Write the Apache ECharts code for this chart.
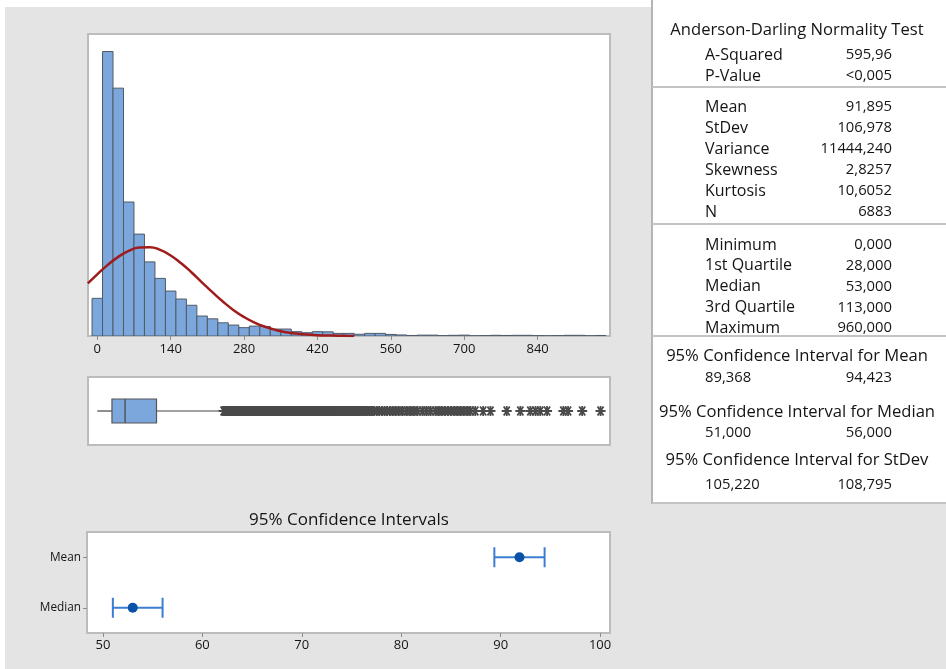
<!DOCTYPE html>
<html>
<head>
<meta charset="utf-8">
<script src="https://cdn.jsdelivr.net/npm/echarts@6/dist/echarts.min.js"></script>
<style>
  html, body { margin: 0; padding: 0; background: #e4e4e4; }
  #chart { width: 946px; height: 669px; }
</style>
</head>
<body>
<div id="chart"></div>
<script>
const FONT = '"Open Sans", "Noto Sans", sans-serif';

// ---- Histogram (bins of width 20, centred on multiples of 20) ----
const binWidth = 20;
const binCenters = [0, 20, 40, 60, 80, 100, 120, 140, 160, 180, 200, 220, 240, 260, 280, 300,
  320, 340, 360, 380, 400, 420, 440, 460, 480, 500, 520, 540, 560, 580, 600, 620, 640, 660,
  680, 700, 720, 740, 760, 780, 800, 820, 840, 860, 880, 900, 920, 940, 960];
const binCounts = [217, 1639, 1428, 772, 587, 427, 332, 259, 213, 177, 115, 99, 76, 63, 48, 57,
  55, 40, 40, 25, 19, 25, 24, 15, 15, 10, 15, 15, 9, 6, 3, 5, 5, 2, 4, 5, 1, 2, 4, 3,
  4, 4, 2, 1, 2, 4, 4, 1, 3];
const histTicks = [0, 140, 280, 420, 560, 700, 840];

// Fitted normal curve, in counts per bin
const curveX = [-18, 0, 20, 40, 60, 80, 100, 120, 140, 160, 180, 200, 220, 240, 260, 280, 300,
  320, 340, 360, 380, 400, 420, 440, 460, 480, 490];
const curveY = [303, 355, 410, 456, 491, 510, 512, 496, 464, 419, 366, 308, 251, 197, 149, 109, 77,
  53, 35, 22, 14, 8, 5, 3, 1.4, 0.7, 0.5];

// ---- Box plot ----
// lower whisker, Q1, median, Q3, upper whisker
const boxStats = [0, 28, 53, 113, 240];
const outliers = [241, 243, 244, 246, 248, 249, 251, 252, 254, 256, 257, 259, 260, 262, 264, 265,
  267, 268, 271, 273, 276, 279, 282, 284, 287, 290, 293, 296, 298, 301, 304, 307, 310, 312, 315,
  318, 321, 324, 327, 330, 333, 336, 339, 342, 345, 348, 351, 354, 357, 360, 363, 366, 369, 372,
  375, 378, 381, 384, 387, 390, 393, 396, 399, 402, 405, 408, 411, 414, 417, 420, 423, 426, 429,
  432, 435, 438, 441, 444, 447, 450, 453, 456, 460, 463, 466, 470, 473, 476, 480, 483, 487, 490,
  494, 497, 501, 505, 508, 512, 516, 520, 524, 528, 533, 538, 543, 548, 553, 558, 563, 569, 575,
  582, 590, 597, 604, 611, 620, 628, 636, 645, 651, 657, 663, 669, 675, 681, 687, 693, 699, 706,
  712, 721, 736, 750, 781, 807, 826, 836, 845, 858, 889, 898, 925, 960];

// ---- 95% confidence intervals ----
const ciLabels = ['Median', 'Mean'];
const ciLow = [51, 89.368];
const ciMid = [53, 91.895];
const ciHigh = [56, 94.423];
const ciTicks = [50, 60, 70, 80, 90, 100];

// ---- Summary table ----
const normalityTitle = 'Anderson-Darling Normality Test';
const normalityLabels = ['A-Squared', 'P-Value'];
const normalityValues = ['595,96', '<0,005'];
const momentLabels = ['Mean', 'StDev', 'Variance', 'Skewness', 'Kurtosis', 'N'];
const momentValues = ['91,895', '106,978', '11444,240', '2,8257', '10,6052', '6883'];
const quantileLabels = ['Minimum', '1st Quartile', 'Median', '3rd Quartile', 'Maximum'];
const quantileValues = [0, 28, 53, 113, 960];
const intervalTitles = ['95% Confidence Interval for Mean',
  '95% Confidence Interval for Median', '95% Confidence Interval for StDev'];
const intervalLows = [89.368, 51, 105.220];
const intervalHighs = [94.423, 56, 108.795];

const fmt3 = v => v.toFixed(3).replace('.', ',');

// ---- layout ----
const PLOT_L = 88, PLOT_W = 522;
const HIST_MIN = -17.7, HIST_MAX = 978;
const TBL_X = 652, LBL_X = 705, VAL_X = 892, TITLE_X = 797;
const BAR_FILL = '#7ba7dc', BAR_EDGE = '#505a66';
const TEXT = '#141414';
const LABEL_SIZE = 16, VALUE_SIZE = 14.8, HEAD_SIZE = 16.6;

function txt(text, x, y, align, size) {
  return {
    type: 'text', silent: true, z: 10,
    style: {
      text: text, x: x, y: y, font: size + 'px ' + FONT, fill: TEXT,
      align: align, textAlign: align, verticalAlign: 'middle', textVerticalAlign: 'middle'
    }
  };
}
function hline(y) {
  return { type: 'rect', silent: true, z: 5, shape: { x: TBL_X, y: y - 1, width: 946 - TBL_X, height: 2 },
    style: { fill: '#c4c4c4' } };
}

const graphics = [
  { type: 'rect', silent: true, z: 1, shape: { x: 0, y: 0, width: TBL_X, height: 7 }, style: { fill: '#ffffff' } },
  { type: 'rect', silent: true, z: 1, shape: { x: 0, y: 0, width: 5, height: 669 }, style: { fill: '#ffffff' } },
  { type: 'rect', silent: true, z: 1, shape: { x: TBL_X, y: 0, width: 946 - TBL_X, height: 503 }, style: { fill: '#ffffff' } },
  { type: 'rect', silent: true, z: 5, shape: { x: TBL_X - 1, y: 0, width: 2, height: 504 }, style: { fill: '#b4b4b4' } },
  hline(87), hline(224), hline(336), hline(503),
  txt(normalityTitle, TITLE_X, 30, 'center', HEAD_SIZE),
  txt('95% Confidence Intervals', (PLOT_L + PLOT_L + PLOT_W) / 2, 520, 'center', 17)
];
normalityLabels.forEach((l, i) => {
  graphics.push(txt(l, LBL_X, 55 + i * 21, 'left', LABEL_SIZE));
  graphics.push(txt(normalityValues[i], VAL_X, 55 + i * 21, 'right', VALUE_SIZE));
});
momentLabels.forEach((l, i) => {
  graphics.push(txt(l, LBL_X, 107 + i * 21, 'left', LABEL_SIZE));
  graphics.push(txt(momentValues[i], VAL_X, 107 + i * 21, 'right', VALUE_SIZE));
});
quantileLabels.forEach((l, i) => {
  graphics.push(txt(l, LBL_X, 245 + i * 20.8, 'left', LABEL_SIZE));
  graphics.push(txt(fmt3(quantileValues[i]), VAL_X, 245 + i * 20.8, 'right', VALUE_SIZE));
});
const intervalY = [356, 412, 460];
const intervalValY = [378, 433, 485];
intervalTitles.forEach((t, i) => {
  graphics.push(txt(t, TITLE_X, intervalY[i], 'center', HEAD_SIZE));
  graphics.push(txt(fmt3(intervalLows[i]), LBL_X, intervalValY[i], 'left', VALUE_SIZE));
  graphics.push(txt(fmt3(intervalHighs[i]), VAL_X, intervalValY[i], 'right', VALUE_SIZE));
});

const chart = echarts.init(document.getElementById('chart'), null, { renderer: 'canvas' });

const gridStyle = { show: true, backgroundColor: '#ffffff', borderColor: '#bcbcbc', borderWidth: 2 };

chart.setOption({
  animation: false,
  backgroundColor: '#e4e4e4',
  textStyle: { fontFamily: FONT },
  grid: [
    Object.assign({ left: PLOT_L, top: 34, width: PLOT_W, height: 302 }, gridStyle),
    Object.assign({ left: PLOT_L, top: 377, width: PLOT_W, height: 68 }, gridStyle),
    Object.assign({ left: 87, top: 532, width: 523, height: 101 }, gridStyle)
  ],
  xAxis: [
    {
      gridIndex: 0, type: 'value', min: HIST_MIN, max: HIST_MAX,
      axisLine: { show: false }, splitLine: { show: false },
      axisTick: { show: true, length: 4, lineStyle: { color: '#8c8c8c' }, customValues: histTicks },
      axisLabel: { customValues: histTicks, fontSize: 13, color: TEXT, margin: 7, fontFamily: FONT }
    },
    {
      gridIndex: 1, type: 'value', min: HIST_MIN, max: HIST_MAX,
      axisLine: { show: false }, splitLine: { show: false }, axisTick: { show: false }, axisLabel: { show: false }
    },
    {
      gridIndex: 2, type: 'value', min: 48.4, max: 101,
      axisLine: { show: false }, splitLine: { show: false },
      axisTick: { show: true, length: 4, lineStyle: { color: '#8c8c8c' }, customValues: ciTicks },
      axisLabel: { customValues: ciTicks, fontSize: 13, color: TEXT, margin: 6, fontFamily: FONT }
    }
  ],
  yAxis: [
    { gridIndex: 0, type: 'value', min: 0, max: 1740, show: false },
    { gridIndex: 1, type: 'value', min: 0, max: 1, show: false },
    {
      gridIndex: 2, type: 'category', data: ciLabels,
      axisLine: { show: false }, splitLine: { show: false },
      axisTick: { show: true, length: 4, alignWithLabel: true, lineStyle: { color: '#8c8c8c' } },
      axisLabel: { fontSize: 11.8, color: TEXT, margin: 6, fontFamily: FONT }
    }
  ],
  series: [
    {
      type: 'custom', xAxisIndex: 0, yAxisIndex: 0, clip: true,
      data: binCenters.map((c, i) => [c, binCounts[i]]),
      renderItem: function (params, api) {
        const c = api.value(0), n = api.value(1);
        const p0 = api.coord([c - binWidth / 2, n]);
        const p1 = api.coord([c + binWidth / 2, 0]);
        return {
          type: 'rect',
          shape: { x: p0[0], y: p0[1], width: p1[0] - p0[0], height: p1[1] - p0[1] },
          style: { fill: BAR_FILL, stroke: BAR_EDGE, lineWidth: 1 }
        };
      }
    },
    {
      type: 'line', xAxisIndex: 0, yAxisIndex: 0, clip: true, smooth: true, symbol: 'none',
      data: curveX.map((x, i) => [x, curveY[i]]),
      lineStyle: { color: '#a01c1c', width: 2.5 }, z: 5
    },
    {
      type: 'custom', xAxisIndex: 1, yAxisIndex: 1,
      data: [boxStats],
      renderItem: function (params, api) {
        const lo = api.coord([api.value(0), 0.5]);
        const q1 = api.coord([api.value(1), 0.5]);
        const md = api.coord([api.value(2), 0.5]);
        const q3 = api.coord([api.value(3), 0.5]);
        const hi = api.coord([api.value(4), 0.5]);
        const h = 12, y = lo[1];
        const line = { stroke: '#444', lineWidth: 1.2 };
        return {
          type: 'group',
          children: [
            { type: 'line', shape: { x1: lo[0], y1: y, x2: q1[0], y2: y }, style: line },
            { type: 'line', shape: { x1: q3[0], y1: y, x2: hi[0], y2: y }, style: line },
            { type: 'rect', shape: { x: q1[0], y: y - h, width: q3[0] - q1[0], height: 2 * h },
              style: { fill: BAR_FILL, stroke: '#555', lineWidth: 1.2 } },
            { type: 'line', shape: { x1: md[0], y1: y - h, x2: md[0], y2: y + h },
              style: { stroke: '#555', lineWidth: 1.5 } }
          ]
        };
      }
    },
    {
      type: 'scatter', xAxisIndex: 1, yAxisIndex: 1,
      data: outliers.map(v => [v, 0.5]),
      symbol: 'path://M0,5L10,5M2,0.5L8,9.5M2,9.5L8,0.5M5,0L5,10',
      symbolSize: 10,
      itemStyle: { color: '#4a4a4a', borderColor: '#4a4a4a', borderWidth: 1.8, opacity: 1 },
      z: 4
    },
    {
      type: 'custom', xAxisIndex: 2, yAxisIndex: 2,
      data: ciLabels.map((c, i) => [ciLow[i], ciHigh[i], i]),
      renderItem: function (params, api) {
        const a = api.coord([api.value(0), api.value(2)]);
        const b = api.coord([api.value(1), api.value(2)]);
        const st = { stroke: '#3b7dd0', lineWidth: 2 };
        const cap = 10;
        return {
          type: 'group',
          children: [
            { type: 'line', shape: { x1: a[0], y1: a[1], x2: b[0], y2: b[1] }, style: st },
            { type: 'line', shape: { x1: a[0], y1: a[1] - cap, x2: a[0], y2: a[1] + cap }, style: st },
            { type: 'line', shape: { x1: b[0], y1: b[1] - cap, x2: b[0], y2: b[1] + cap }, style: st }
          ]
        };
      }
    },
    {
      type: 'scatter', xAxisIndex: 2, yAxisIndex: 2,
      data: ciMid.map((v, i) => [v, i]),
      symbol: 'circle', symbolSize: 10,
      itemStyle: { color: '#0a52a8', opacity: 1 }, z: 5
    }
  ],
  graphic: { elements: graphics }
});
</script>
</body>
</html>
